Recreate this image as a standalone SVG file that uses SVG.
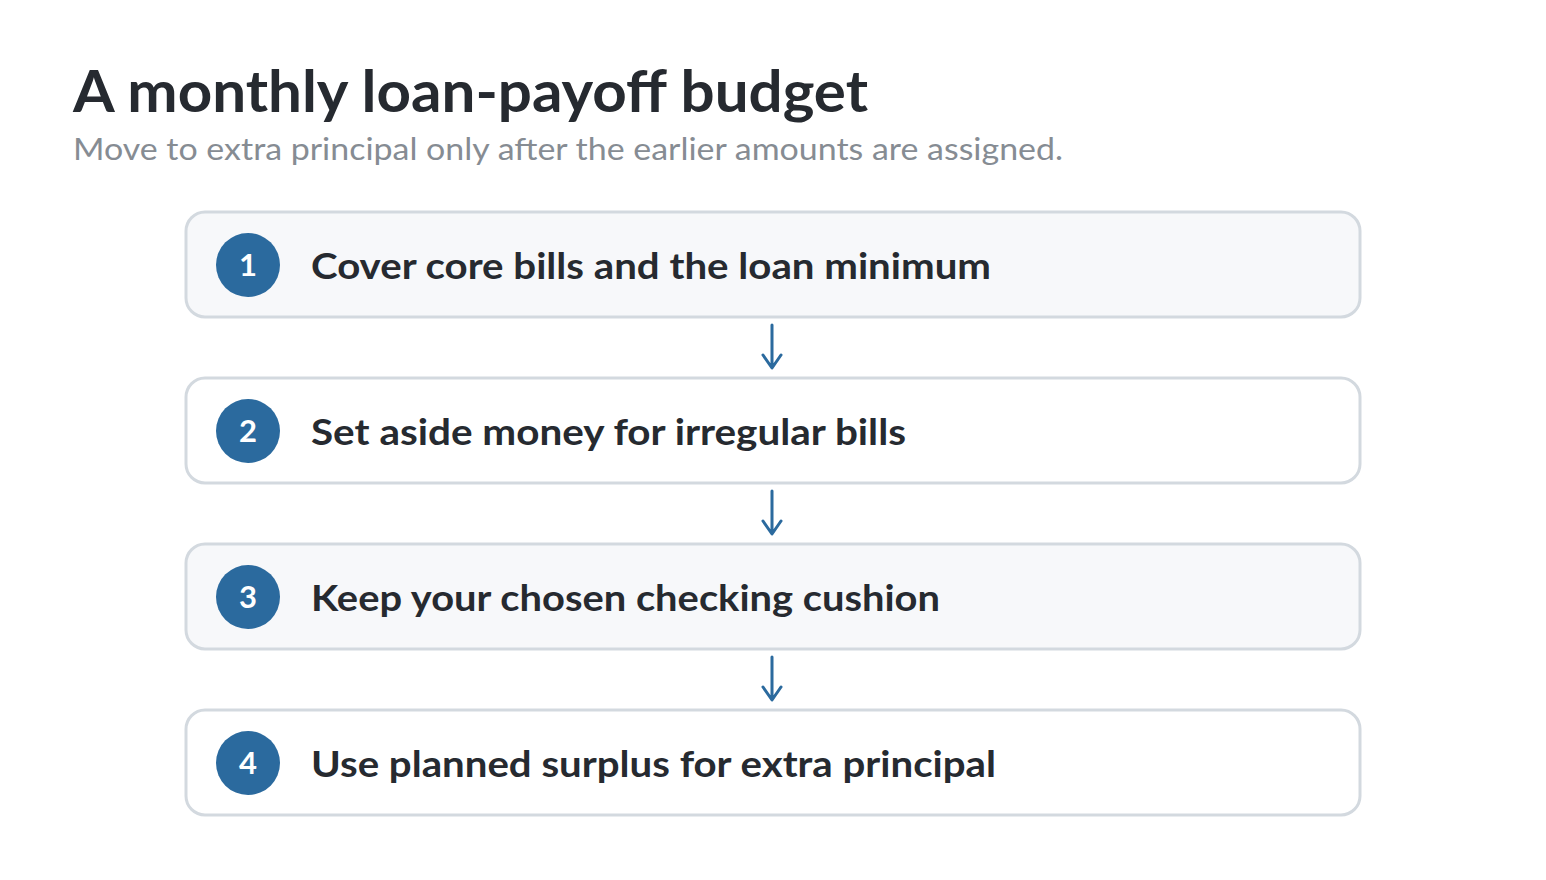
<svg xmlns="http://www.w3.org/2000/svg" width="1546" height="880" viewBox="0 0 1546 880">
<style>
.title{font-family:Lato,"Noto Sans","Liberation Sans",sans-serif;font-weight:700;font-size:58px;fill:#262a30}
.sub{font-family:Lato,"Noto Sans","Liberation Sans",sans-serif;font-size:31px;fill:#868c93}
.box{stroke:#d3d9df;stroke-width:3}
.odd{fill:#f7f8fa}
.even{fill:#ffffff}
.badge{fill:#2b6a9e}
.num{font-family:Lato,"Noto Sans","Liberation Sans",sans-serif;font-weight:700;font-size:31px;fill:#ffffff;text-anchor:middle}
.lbl{font-family:Lato,"Noto Sans","Liberation Sans",sans-serif;font-weight:700;font-size:37px;fill:#262a30}
.conn{stroke:#2b6a9e;stroke-width:3;fill:none;stroke-linecap:round;stroke-linejoin:round}
</style>
<rect width="1546" height="880" fill="#ffffff"/>
<text class="title" x="73" y="112" textLength="795" lengthAdjust="spacingAndGlyphs">A monthly loan-payoff budget</text>
<text class="sub" x="73" y="160" textLength="990" lengthAdjust="spacingAndGlyphs">Move to extra principal only after the earlier amounts are assigned.</text>
<g id="step1">
<rect class="box odd" x="186" y="212" width="1174" height="105" rx="19"/>
<circle class="badge" cx="248" cy="265" r="32"/>
<text class="num" x="248" y="276">1</text>
<text class="lbl" x="311" y="279" textLength="680" lengthAdjust="spacingAndGlyphs">Cover core bills and the loan minimum</text>
</g>
<g id="step2">
<rect class="box even" x="186" y="378" width="1174" height="105" rx="19"/>
<circle class="badge" cx="248" cy="431" r="32"/>
<text class="num" x="248" y="442">2</text>
<text class="lbl" x="311" y="445" textLength="595" lengthAdjust="spacingAndGlyphs">Set aside money for irregular bills</text>
</g>
<g id="step3">
<rect class="box odd" x="186" y="544" width="1174" height="105" rx="19"/>
<circle class="badge" cx="248" cy="597" r="32"/>
<text class="num" x="248" y="608">3</text>
<text class="lbl" x="311" y="611" textLength="629" lengthAdjust="spacingAndGlyphs">Keep your chosen checking cushion</text>
</g>
<g id="step4">
<rect class="box even" x="186" y="710" width="1174" height="105" rx="19"/>
<circle class="badge" cx="248" cy="763" r="32"/>
<text class="num" x="248" y="774">4</text>
<text class="lbl" x="311" y="777" textLength="685" lengthAdjust="spacingAndGlyphs">Use planned surplus for extra principal</text>
</g>
<g id="connectors">
<path class="conn" d="M772 325 V367 M763 355 L772 368 L781 355"/>
<path class="conn" d="M772 491 V533 M763 521 L772 534 L781 521"/>
<path class="conn" d="M772 657 V699 M763 687 L772 700 L781 687"/>
</g>
</svg>
